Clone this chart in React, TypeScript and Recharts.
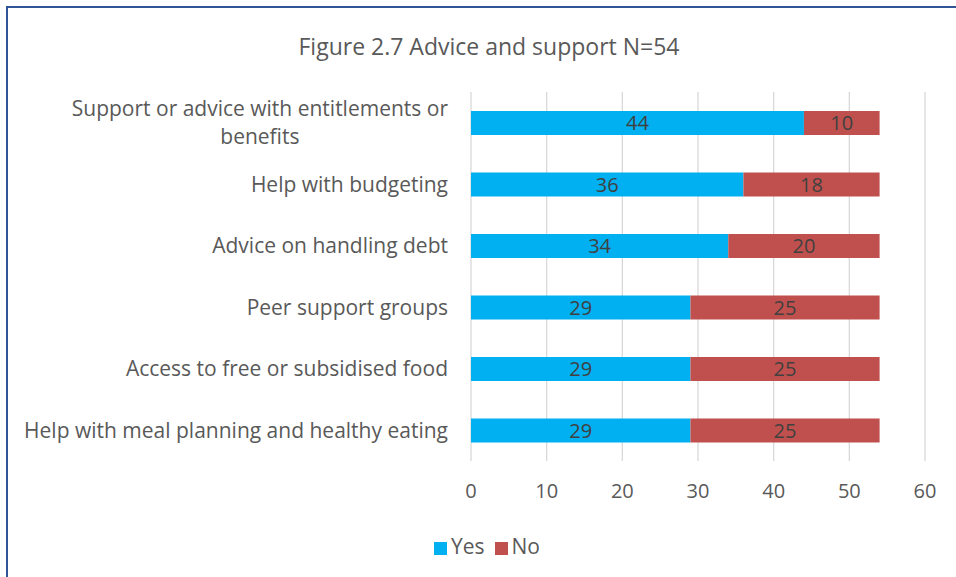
import React from "react";
import { BarChart, Bar, XAxis, YAxis, CartesianGrid, Legend, LabelList } from "recharts";

const CATEGORIES = [
  "Support or advice with entitlements or benefits",
  "Help with budgeting",
  "Advice on handling debt",
  "Peer support groups",
  "Access to free or subsidised food",
  "Help with meal planning and healthy eating",
];
const YES = [44, 36, 34, 29, 29, 29];
const NO = [10, 18, 20, 25, 25, 25];
const X_TICKS = [0, 10, 20, 30, 40, 50, 60];
const SERIES_ORDER = ["Yes", "No"];

const data = CATEGORIES.map((name, i) => ({ name, yes: YES[i], no: NO[i] }));

const FONT = "'Open Sans', sans-serif";
const TEXT = "#595959";

let ctx: CanvasRenderingContext2D | null = null;
const textWidth = (s: string, size: number) => {
  if (!ctx) ctx = document.createElement("canvas").getContext("2d");
  ctx!.font = `${size}px ${FONT}`;
  return ctx!.measureText(s).width;
};

// excel-style wrapped label: block right aligned, lines centred within it
function CategoryTick(props: any) {
  const { x, y, payload } = props;
  const size = 21;
  const maxW = 440;
  const lines: string[] = [];
  let cur = "";
  for (const w of String(payload.value).split(" ")) {
    const next = cur ? cur + " " + w : w;
    if (cur && textWidth(next, size) > maxW) {
      lines.push(cur);
      cur = w;
    } else cur = next;
  }
  lines.push(cur);
  if (lines.length === 1) {
    return (
      <text x={x} y={y} dy="0.35em" textAnchor="end" fill={TEXT} fontSize={size} fontFamily={FONT}>
        {lines[0]}
      </text>
    );
  }
  const widest = Math.max(...lines.map((l) => textWidth(l, size)));
  const lh = 28;
  const y0 = y - ((lines.length - 1) * lh) / 2;
  return (
    <text x={x - widest / 2} y={y0} textAnchor="middle" fill={TEXT} fontSize={size} fontFamily={FONT}>
      {lines.map((l, i) => (
        <tspan key={i} x={x - widest / 2} y={y0 + i * lh} dy="0.35em">
          {l}
        </tspan>
      ))}
    </text>
  );
}

export default function App() {
  return (
    <div
      style={{
        position: "absolute",
        left: 6,
        top: 6,
        width: 948,
        height: 569,
        borderTop: "2px solid #2F5597",
        borderLeft: "2px solid #2F5597",
        fontFamily: FONT,
      }}
    >
      <style>{`body{overflow:hidden}`}</style>
      <div
        style={{
          position: "absolute",
          left: 0,
          width: 962,
          top: 22,
          textAlign: "center",
          fontSize: 23,
          color: TEXT,
        }}
      >
        Figure 2.7 Advice and support N=54
      </div>
      <BarChart
        width={948}
        height={569}
        data={data}
        layout="vertical"
        margin={{ top: 84, right: 31, bottom: 21, left: 0 }}
        barSize={24}
      >
        <CartesianGrid horizontal={false} stroke="#d9d9d9" strokeWidth={1.3} />
        <XAxis
          type="number"
          domain={[0, 60]}
          ticks={X_TICKS}
          axisLine={false}
          tickLine={false}
          tickMargin={17}
          height={71}
          tick={{ fill: TEXT, fontSize: 20, fontFamily: FONT }}
        />
        <YAxis
          type="category"
          dataKey="name"
          width={463}
          axisLine={false}
          tickLine={false}
          tickMargin={17}
          tick={<CategoryTick />}
        />
        <Legend
          verticalAlign="bottom"
          height={24}
          iconType="square"
          iconSize={13}
          itemSorter={(item: any) => SERIES_ORDER.indexOf(item.value)}
          wrapperStyle={{ left: 426, width: "auto", fontSize: 21, fontFamily: FONT }}
          formatter={(v: string) => <span style={{ color: TEXT }}>{v}</span>}
        />
        <Bar dataKey="yes" name="Yes" stackId="a" fill="#00B0F0" isAnimationActive={false}>
          <LabelList dataKey="yes" position="center" fill="#404040" fontSize={20} fontFamily={FONT} />
        </Bar>
        <Bar dataKey="no" name="No" stackId="a" fill="#C0504D" isAnimationActive={false}>
          <LabelList dataKey="no" position="center" fill="#404040" fontSize={20} fontFamily={FONT} />
        </Bar>
      </BarChart>
    </div>
  );
}
